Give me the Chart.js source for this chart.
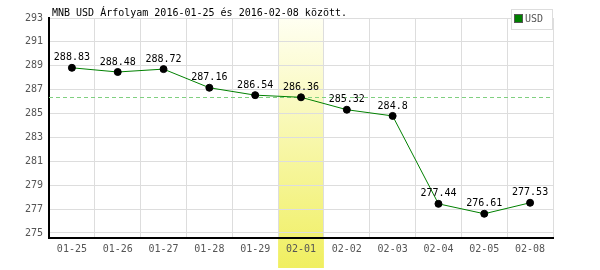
<!DOCTYPE html>
<html>
<head>
<meta charset="utf-8">
<script src="https://cdn.jsdelivr.net/npm/chart.js@4/dist/chart.umd.min.js"></script>
<style>
  html, body { margin: 0; padding: 0; background: #fff; }
  #wrap { width: 600px; height: 270px; }
</style>
</head>
<body>
<div id="wrap"><canvas id="myChart" width="600" height="270"></canvas></div>
<script>
const labels = ['01-25', '01-26', '01-27', '01-28', '01-29', '02-01', '02-02', '02-03', '02-04', '02-05', '02-08'];
const usd = [288.83, 288.48, 288.72, 287.16, 286.54, 286.36, 285.32, 284.8, 277.44, 276.61, 277.53];
const yTicks = [275, 277, 279, 281, 283, 285, 287, 289, 291, 293];
const highlightIndex = 5; // 02-01
const titleText = 'MNB USD Árfolyam 2016-01-25 és 2016-02-08 között.';
const legendText = 'USD';

const mono = '"DejaVu Sans Mono", "Liberation Mono", monospace';

// sárga kiemelő sáv + szaggatott referencia vonal
const highlightPlugin = {
    id: 'highlight',
    beforeDraw(chart) {
        const { ctx, chartArea, scales } = chart;
        const x = scales.x;
        const half = (x.getPixelForValue(1) - x.getPixelForValue(0)) / 2;
        const cx = x.getPixelForValue(highlightIndex);
        const g = ctx.createLinearGradient(0, chartArea.top, 0, chart.height - 2);
        g.addColorStop(0, '#fffff2');
        g.addColorStop(1, '#f0ef60');
        ctx.save();
        ctx.fillStyle = g;
        ctx.fillRect(cx - half, chartArea.top, half * 2, chart.height - 2 - chartArea.top);
        ctx.restore();
    },
    beforeDatasetsDraw(chart) {
        const { ctx, chartArea, scales } = chart;
        const y = Math.round(scales.y.getPixelForValue(usd[highlightIndex])) + 0.5;
        ctx.save();
        ctx.strokeStyle = '#80d080';
        ctx.lineWidth = 1;
        ctx.setLineDash([4, 3]);
        ctx.beginPath();
        ctx.moveTo(chartArea.left, y);
        ctx.lineTo(chartArea.right, y);
        ctx.stroke();
        ctx.restore();
    },
    afterDraw(chart) {
        const { ctx } = chart;
        ctx.save();
        // cím
        ctx.font = '10px ' + mono;
        ctx.fillStyle = '#000';
        ctx.textBaseline = 'middle';
        ctx.textAlign = 'left';
        ctx.fillText(titleText, 52, 13);
        // értékek a pontok felett
        const meta = chart.getDatasetMeta(0);
        ctx.textAlign = 'center';
        ctx.textBaseline = 'bottom';
        meta.data.forEach((pt, i) => {
            ctx.fillText(String(usd[i]), pt.x, pt.y - 5);
        });
        // jelmagyarázat
        ctx.fillStyle = '#fff';
        ctx.fillRect(511.5, 9.5, 41, 20);
        ctx.strokeStyle = '#dddddd';
        ctx.lineWidth = 1;
        ctx.strokeRect(511.5, 9.5, 41, 20);
        ctx.fillStyle = '#008000';
        ctx.fillRect(515, 15, 7, 7);
        ctx.strokeStyle = '#555';
        ctx.strokeRect(514.5, 14.5, 8, 8);
        ctx.fillStyle = '#555';
        ctx.textAlign = 'left';
        ctx.textBaseline = 'middle';
        ctx.font = '10px ' + mono;
        ctx.fillText(legendText, 525, 19);
        ctx.restore();
    }
};

const ctx = document.getElementById('myChart').getContext('2d');
const myChart = new Chart(ctx, {
    type: 'line',
    data: {
        labels: labels,
        datasets: [{
            label: legendText,
            data: usd,
            borderColor: '#008000',
            borderWidth: 1,
            pointBackgroundColor: '#000',
            pointBorderColor: '#000',
            pointRadius: 3.5,
            tension: 0
        }]
    },
    options: {
        responsive: false,
        animation: false,
        layout: { padding: { top: 18, right: 47, left: 0, bottom: 0 } },
        plugins: {
            legend: { display: false },
            tooltip: { enabled: false }
        },
        scales: {
            x: {
                offset: true,
                grid: { offset: true, color: '#dddddd', drawTicks: false },
                border: { color: '#000', width: 2 },
                ticks: { color: '#555', font: { family: mono, size: 10 }, padding: 5, maxRotation: 0, autoSkip: false },
                afterFit: s => { s.height = 32; }
            },
            y: {
                min: 274.58,
                max: 293,
                afterBuildTicks: s => { s.ticks = yTicks.map(v => ({ value: v })); },
                grid: { color: '#dddddd', drawTicks: false },
                border: { color: '#000', width: 2 },
                ticks: { color: '#555', font: { family: mono, size: 10 }, padding: 6 },
                afterFit: s => { s.width = 49; }
            }
        }
    },
    plugins: [highlightPlugin]
});
</script>
</body>
</html>
